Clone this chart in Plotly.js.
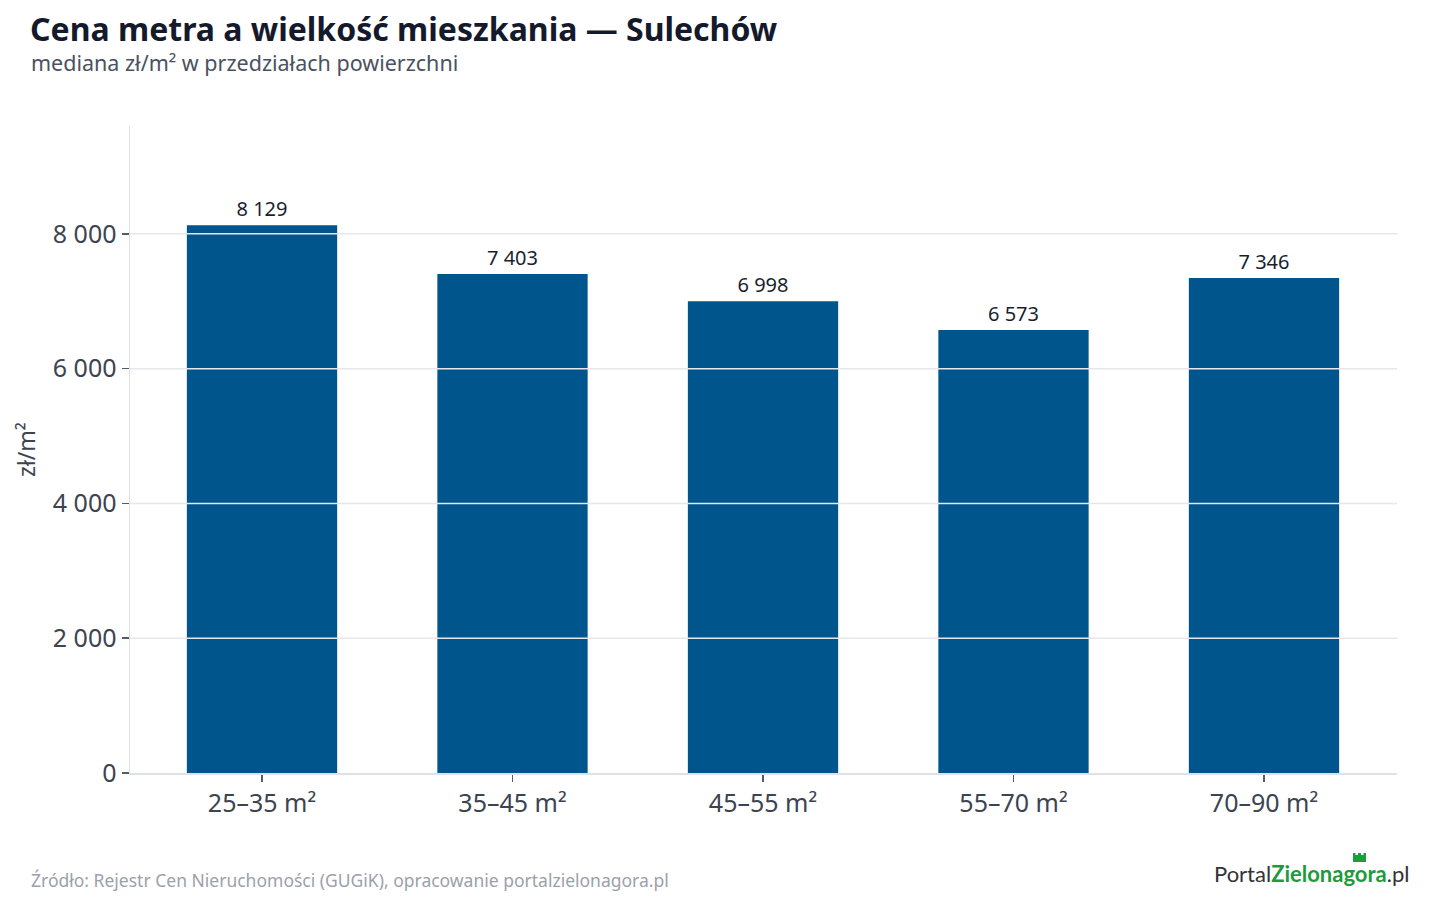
<!DOCTYPE html>
<html>
<head>
<meta charset="utf-8">
<script src="https://cdn.plot.ly/plotly-3.0.1.min.js"></script>
<style>
html,body{margin:0;padding:0;background:#fff;}
#chart{width:1440px;height:900px;}
</style>
</head>
<body>
<div id="chart"></div>
<script>
const categories = ["25–35 m²", "35–45 m²", "45–55 m²", "55–70 m²", "70–90 m²"];
const medianPrice = [8129, 7403, 6998, 6573, 7346];
const yTickValues = [0, 2000, 4000, 6000, 8000];

const FONT = "'Noto Sans', 'Open Sans', sans-serif";
const BAR_COLOR = "#00558c";
const GRID_COLOR = "#e6e6ec";

const M = {l: 130, r: 43, t: 126, b: 127};
const PW = 1440 - M.l - M.r, PH = 900 - M.t - M.b;
const px = x => (x - M.l) / PW;          // page pixel -> paper x
const py = y => (900 - M.b - y) / PH;    // page pixel -> paper y

const trace = {
  type: "bar",
  x: categories,
  y: medianPrice,
  width: 0.6,
  marker: {color: BAR_COLOR, line: {width: 0}},
  texttemplate: "%{y:,d}",
  textposition: "outside",
  cliponaxis: false,
  textfont: {family: FONT, size: 20, color: "#1a1f2e"},
  hoverinfo: "skip"
};

const gridShapes = yTickValues.filter(v => v > 0).map(v => ({
  type: "line", xref: "paper", yref: "y", x0: 0, x1: 1, y0: v, y1: v,
  layer: "above", line: {color: GRID_COLOR, width: 1.5}
}));

// small castle tower decoration of the logo
const towerPath = [
  "M", px(1353), py(862), "L", px(1353), py(853), "L", px(1355.5), py(853), "L", px(1355.5), py(855),
  "L", px(1358), py(855), "L", px(1358), py(853), "L", px(1361), py(853), "L", px(1361), py(855),
  "L", px(1363.5), py(855), "L", px(1363.5), py(853), "L", px(1366), py(853), "L", px(1366), py(862), "Z"
].join(" ");

const layout = {
  width: 1440, height: 900,
  paper_bgcolor: "#ffffff", plot_bgcolor: "#ffffff",
  margin: M,
  separators: ", ",
  font: {family: FONT, color: "#3d4451"},
  showlegend: false,
  xaxis: {
    type: "category",
    range: [-0.527, 4.531],
    showgrid: false,
    showline: true, linecolor: "#e0e0e8", linewidth: 1.5,
    ticks: "outside", ticklen: 7, tickcolor: "#555b66", tickwidth: 1.5,
    tickfont: {family: FONT, size: 25, color: "#3d4451"},
    zeroline: false
  },
  yaxis: {
    range: [0, 9600],
    tickvals: yTickValues,
    tickformat: ",d",
    showgrid: false,
    zeroline: false,
    showline: true, linecolor: "#e0e0e8", linewidth: 1.5,
    ticks: "outside", ticklen: 7, tickcolor: "#555b66", tickwidth: 1.5,
    tickfont: {family: FONT, size: 25, color: "#3d4451"},
    title: {text: "zł/m²", font: {family: FONT, size: 23, color: "#3d4451"}, standoff: 10}
  },
  shapes: gridShapes.concat([
    {type: "path", xref: "paper", yref: "paper", path: towerPath,
     fillcolor: "#1f9a3c", line: {width: 0}, layer: "above"}
  ]),
  annotations: [
    {text: "<b>Cena metra a wielkość mieszkania — Sulechów</b>", xref: "paper", yref: "paper",
     x: px(28), y: py(29), xanchor: "left", yanchor: "middle", showarrow: false,
     font: {family: FONT, size: 32, color: "#141a2b"}},
    {text: "mediana zł/m² w przedziałach powierzchni", xref: "paper", yref: "paper",
     x: px(29), y: py(63), xanchor: "left", yanchor: "middle", showarrow: false,
     font: {family: FONT, size: 21.5, color: "#4a5160"}},
    {text: "Źródło: Rejestr Cen Nieruchomości (GUGiK), opracowanie portalzielonagora.pl", xref: "paper", yref: "paper",
     x: px(29), y: py(880), xanchor: "left", yanchor: "middle", showarrow: false,
     font: {family: FONT, size: 17.5, color: "#9ba1ab"}},
    {text: "<span style='color:#333333'>Portal</span><span style='color:#1f9a3c'><b>Zielonagora</b></span><span style='color:#333333'>.pl</span>",
     xref: "paper", yref: "paper",
     x: px(1411), y: py(873), xanchor: "right", yanchor: "middle", showarrow: false,
     font: {family: "Lato, 'Noto Sans', sans-serif", size: 22, color: "#333333"}}
  ]
};

Plotly.newPlot("chart", [trace], layout, {displayModeBar: false, staticPlot: true});
</script>
</body>
</html>
